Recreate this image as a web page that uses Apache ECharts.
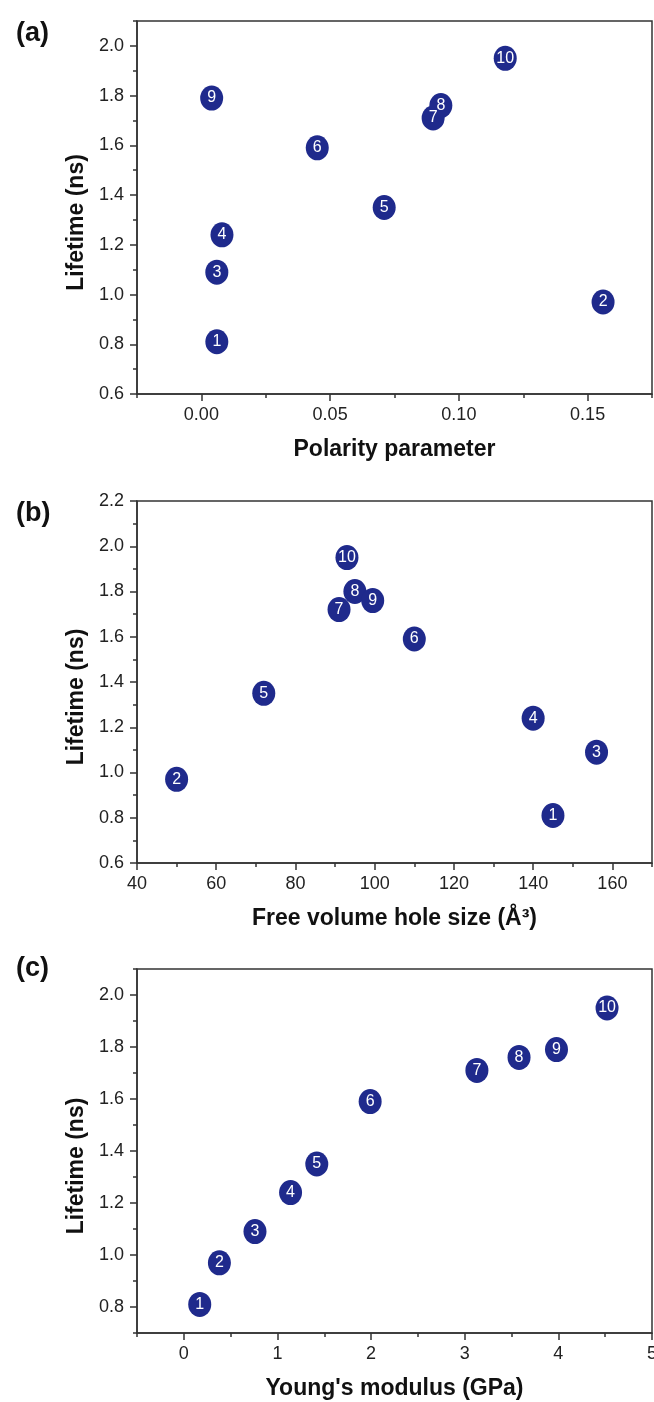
<!DOCTYPE html>
<html>
<head>
<meta charset="utf-8">
<script src="https://cdn.jsdelivr.net/npm/echarts@6/dist/echarts.min.js"></script>
<style>
html, body { margin: 0; padding: 0; background: #fff; }
#main { width: 654px; height: 1402px; }
</style>
</head>
<body>
<div id="main"></div>
<script>
// sample numbers 1..10
var sampleIds = [1, 2, 3, 4, 5, 6, 7, 8, 9, 10];

// (a) lifetime vs polarity parameter
var polarity = [0.006, 0.156, 0.006, 0.008, 0.071, 0.045, 0.090, 0.093, 0.004, 0.118];
var lifetimeA = [0.81, 0.97, 1.09, 1.24, 1.35, 1.59, 1.71, 1.76, 1.79, 1.95];

// (b) lifetime vs free volume hole size
var holeSize = [145, 50, 156, 140, 72, 110, 91, 95, 99.5, 93];
var lifetimeB = [0.81, 0.97, 1.09, 1.24, 1.35, 1.59, 1.72, 1.80, 1.76, 1.95];

// (c) lifetime vs Young's modulus
var modulus = [0.17, 0.38, 0.76, 1.14, 1.42, 1.99, 3.13, 3.58, 3.98, 4.52];
var lifetimeC = [0.81, 0.97, 1.09, 1.24, 1.35, 1.59, 1.71, 1.76, 1.79, 1.95];

// tick values
var xMajorA = [0, 0.05, 0.10, 0.15];
var xMinorA = [-0.025, 0.025, 0.075, 0.125, 0.175];
var yMajorA = [0.6, 0.8, 1.0, 1.2, 1.4, 1.6, 1.8, 2.0];
var yMinorA = [0.7, 0.9, 1.1, 1.3, 1.5, 1.7, 1.9, 2.1];

var xMajorB = [40, 60, 80, 100, 120, 140, 160];
var xMinorB = [50, 70, 90, 110, 130, 150, 170];
var yMajorB = [0.6, 0.8, 1.0, 1.2, 1.4, 1.6, 1.8, 2.0, 2.2];
var yMinorB = [0.7, 0.9, 1.1, 1.3, 1.5, 1.7, 1.9, 2.1];

var xMajorC = [0, 1, 2, 3, 4, 5];
var xMinorC = [-0.5, 0.5, 1.5, 2.5, 3.5, 4.5];
var yMajorC = [0.8, 1.0, 1.2, 1.4, 1.6, 1.8, 2.0];
var yMinorC = [0.7, 0.9, 1.1, 1.3, 1.5, 1.7, 1.9, 2.1];

var FONT = 'Liberation Sans, Arial, sans-serif';
var AXIS_COLOR = '#333';
var DOT_COLOR = '#1f2a8c';

function mainAxis(dim, grid, min, max, majors, digits, name) {
    var isX = dim == 'x';
    return {
        type: 'value',
        gridIndex: grid,
        min: min,
        max: max,
        position: isX ? 'bottom' : 'left',
        axisLine: { show: true, onZero: false, lineStyle: { color: AXIS_COLOR, width: 1.5 } },
        axisTick: { show: true, customValues: majors, length: 7, lineStyle: { color: AXIS_COLOR, width: 1.5 } },
        axisLabel: {
            customValues: majors,
            margin: isX ? 12 : 13,
            fontSize: 18,
            fontFamily: FONT,
            color: '#222',
            formatter: function (v) { return v.toFixed(digits); }
        },
        splitLine: { show: false },
        name: name,
        nameLocation: 'middle',
        nameGap: isX ? 44 : 47,
        nameTextStyle: {
            fontSize: 23,
            fontWeight: 'bold',
            fontFamily: FONT,
            color: '#111',
            padding: isX ? 0 : [0, 30, 0, 0]
        }
    };
}

function minorAxis(dim, grid, min, max, minors) {
    return {
        type: 'value',
        gridIndex: grid,
        min: min,
        max: max,
        position: dim == 'x' ? 'bottom' : 'left',
        axisLine: { show: false, onZero: false },
        axisTick: { show: true, customValues: minors, length: 4, lineStyle: { color: AXIS_COLOR, width: 1.5 } },
        axisLabel: { show: false },
        splitLine: { show: false }
    };
}

function points(xs, ys) {
    var out = [];
    for (var i = 0; i < xs.length; i++) {
        out.push([xs[i], ys[i], sampleIds[i]]);
    }
    return out;
}

function dots(idx, xs, ys) {
    return {
        type: 'scatter',
        xAxisIndex: idx * 2,
        yAxisIndex: idx * 2,
        symbol: 'circle',
        symbolSize: [23, 25],
        itemStyle: { color: DOT_COLOR, opacity: 1 },
        label: {
            show: true,
            position: 'inside',
            color: '#fff',
            fontSize: 16,
            fontFamily: FONT,
            formatter: function (p) { return p.value[2]; }
        },
        data: points(xs, ys)
    };
}

function gridBox(top, height) {
    return {
        left: 137, top: top, width: 515, height: height,
        outerBoundsMode: 'none',
        containLabel: false,
        show: true, borderColor: AXIS_COLOR, borderWidth: 1.5
    };
}

function panelTag(text, top) {
    return {
        text: text, left: 11, top: top,
        textStyle: { fontSize: 27, fontWeight: 'bold', fontFamily: FONT, color: '#111' }
    };
}

var myChart = echarts.init(document.getElementById('main'));

var option = {
    backgroundColor: '#fff',
    animation: false,
    title: [
        panelTag('(a)', 15),
        panelTag('(b)', 495),
        panelTag('(c)', 950)
    ],
    grid: [
        gridBox(21, 373),
        gridBox(501, 362),
        gridBox(969, 364)
    ],
    xAxis: [
        mainAxis('x', 0, -0.025, 0.175, xMajorA, 2, 'Polarity parameter'),
        minorAxis('x', 0, -0.025, 0.175, xMinorA),
        mainAxis('x', 1, 40, 170, xMajorB, 0, 'Free volume hole size (Å³)'),
        minorAxis('x', 1, 40, 170, xMinorB),
        mainAxis('x', 2, -0.5, 5, xMajorC, 0, "Young's modulus (GPa)"),
        minorAxis('x', 2, -0.5, 5, xMinorC)
    ],
    yAxis: [
        mainAxis('y', 0, 0.6, 2.1, yMajorA, 1, 'Lifetime (ns)'),
        minorAxis('y', 0, 0.6, 2.1, yMinorA),
        mainAxis('y', 1, 0.6, 2.2, yMajorB, 1, 'Lifetime (ns)'),
        minorAxis('y', 1, 0.6, 2.2, yMinorB),
        mainAxis('y', 2, 0.7, 2.1, yMajorC, 1, 'Lifetime (ns)'),
        minorAxis('y', 2, 0.7, 2.1, yMinorC)
    ],
    series: [
        dots(0, polarity, lifetimeA),
        dots(1, holeSize, lifetimeB),
        dots(2, modulus, lifetimeC)
    ]
};
myChart.setOption(option);
</script>
</body>
</html>
